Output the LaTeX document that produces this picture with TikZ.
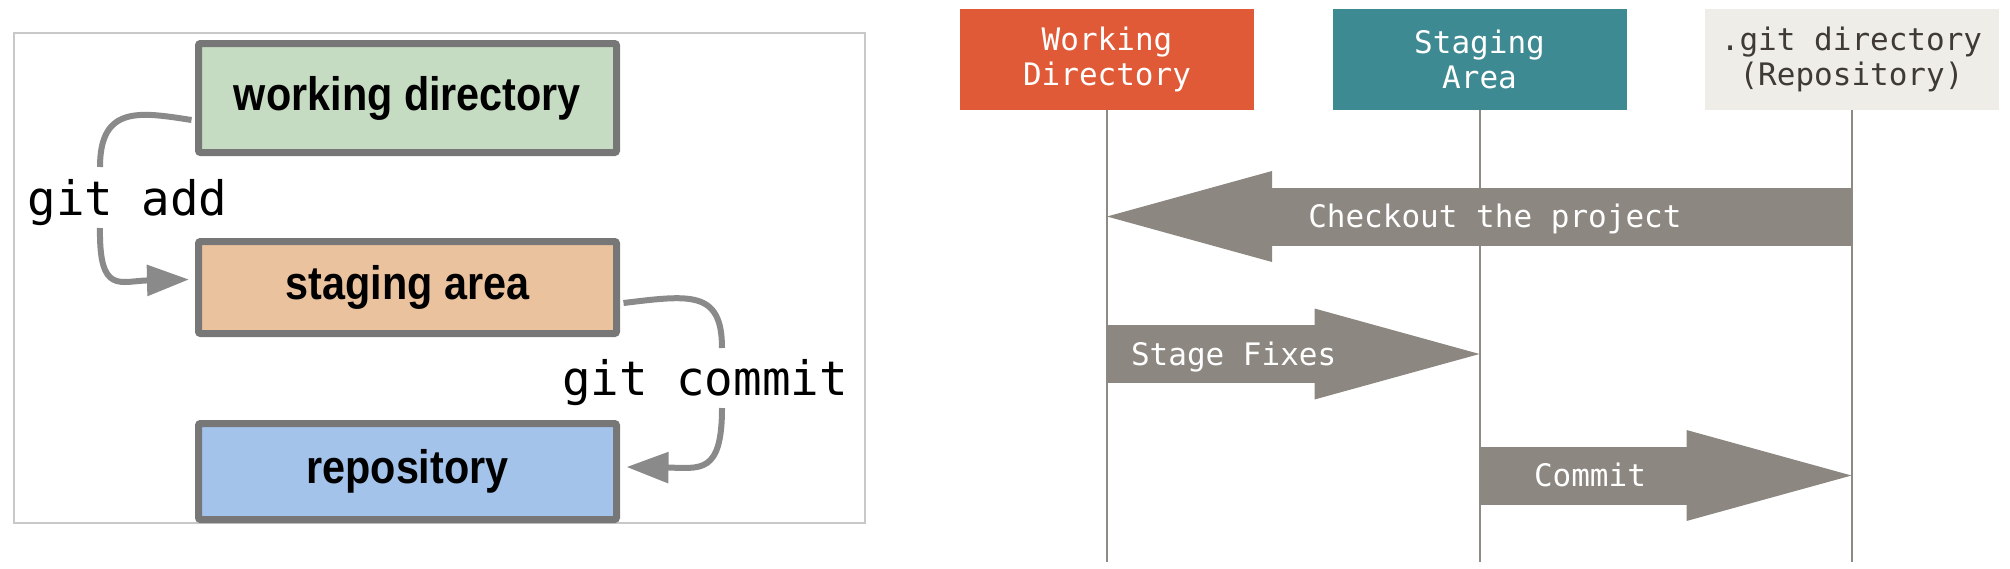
\documentclass[tikz,border=0pt]{standalone}
\usepackage{fontspec}
\setmainfont{Liberation Sans}
\setmonofont{DejaVu Sans Mono}
\newfontfamily\boxfont[FakeStretch=0.88]{Liberation Sans}
\usetikzlibrary{arrows.meta}

\definecolor{wdgreen}{HTML}{C6DCC2}
\definecolor{sagold}{HTML}{EAC39E}
\definecolor{repoblue}{HTML}{A3C3EA}
\definecolor{boxgray}{HTML}{777777}
\definecolor{flowgray}{HTML}{8A8A8A}
\definecolor{framegray}{HTML}{C8C8C8}
\definecolor{wdred}{HTML}{E15A37}
\definecolor{sateal}{HTML}{3E8A93}
\definecolor{gitpaper}{HTML}{EEEDE7}
\definecolor{gitink}{HTML}{3F3A35}
\definecolor{lanegray}{HTML}{8E8A84}
\definecolor{movegray}{HTML}{8C8780}

\begin{document}
\begin{tikzpicture}[x=1pt,y=-1pt,
    area/.style={draw=boxgray,line width=7pt,rounded corners=2pt,minimum width=418pt,
      font=\boxfont\bfseries\fontsize{47}{56}\selectfont},
    flow/.style={draw=flowgray,line width=6pt},
    cmd/.style={font=\ttfamily\fontsize{47.5}{56}\selectfont,anchor=base,inner sep=0pt},
    lane/.style={minimum width=294pt,minimum height=101pt,inner sep=0pt,align=center,
      font=\ttfamily\fontsize{31}{35}\selectfont},
    move/.style={draw=movegray,line width=58pt,-{Triangle[length=165pt,width=91pt,line width=0pt]}},
    movelabel/.style={text=white,font=\ttfamily\fontsize{31}{35}\selectfont,anchor=base,
      inner sep=0pt,yshift=-11pt}]
      \useasboundingbox (0,0) rectangle (2010,568);

      % the three areas, old picture
      \draw[framegray,line width=1.5pt] (14,33) rectangle (865,523);
      \node[area,fill=wdgreen,minimum height=109pt] (wd) at (407.5,98) {working directory};
      \node[area,fill=sagold,minimum height=92pt] (sa) at (407.5,287.5) {staging area};
      \node[area,fill=repoblue,minimum height=96pt] (repo) at (407.5,471.5) {repository};

      \coordinate (add-top) at (100,167);
      \coordinate (add-bot) at (100,228);
      \draw[flow] ([xshift=-3.5pt,yshift=-22pt]wd.west) .. controls (140,112) and (100,105) .. (add-top);
      \draw[flow,-{Triangle[length=42pt,width=30pt]}] (add-bot)
        .. controls (99,295) and (120,281) .. ([xshift=-6pt,yshift=8pt]sa.west);
      \node[cmd] (add) at (127.5,215) {git add};

      \coordinate (commit-top) at (722,348);
      \coordinate (commit-bot) at (722,408);
      \draw[flow] ([xshift=3.5pt,yshift=-15.5pt]sa.east) .. controls (690,295) and (722,290) .. (commit-top);
      \draw[flow,-{Triangle[length=42pt,width=30pt]}] (commit-bot)
        .. controls (722,475) and (700,468) .. ([xshift=6.5pt,yshift=4.5pt]repo.east);
      \node[cmd] (commit) at (705,395) {git commit};

      % lanes
      \node[lane,fill=wdred,text=white] (wdhead) at (1107,59.5) {Working\\Directory};
      \node[lane,fill=sateal,text=white] (sahead) at (1479.5,59.5) {Staging\\Area};
      \node[lane,fill=gitpaper,text=gitink] (githead) at (1851.5,59.5) {.git directory\\(Repository)};

      \coordinate (floor) at (0,562);
      \draw[lanegray,line width=2pt] (wdhead.south) -- (wdhead |- floor);
      \draw[lanegray,line width=2pt] (sahead.south) -- (sahead |- floor);
      \draw[lanegray,line width=2pt] (githead.south) -- (githead |- floor);

      \coordinate (checkout) at (0,216.5);
      \coordinate (stage) at (0,354);
      \coordinate (store) at (0,475.5);
      \draw[move] (githead |- checkout) -- (wdhead |- checkout)
        node[movelabel,pos=0.479] {Checkout the project};
      \draw[move] (wdhead |- stage) -- (sahead |- stage)
        node[movelabel,pos=0,anchor=base west,xshift=-5pt] {Stage Fixes};
      \draw[move] (sahead |- store) -- (githead |- store)
        node[movelabel,pos=0.297] {Commit};
    \end{tikzpicture}
\end{document}
